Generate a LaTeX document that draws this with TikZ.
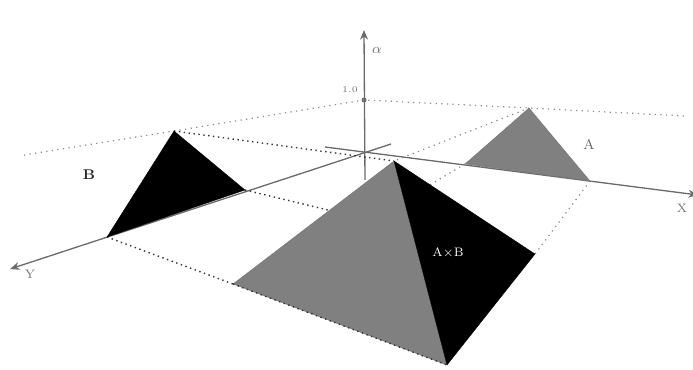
\documentclass[tikz,border=0pt]{standalone}
\usepackage{amsmath,amssymb}
\usepackage{tikz}
\usetikzlibrary{arrows.meta}
\usepackage{xcolor}

\begin{document}
\begin{tikzpicture}[
    x=0.2mm, y=-0.2mm,
    axisline/.style={-{Stealth[length=5.5pt,width=4.5pt]}, line width=0.75pt, color=black!58},
    guide/.style={dash pattern=on 0.7pt off 2.5pt, line width=0.7pt, color=black!45},
    darkguide/.style={dash pattern=on 0.8pt off 2pt, line width=0.8pt, color=black!80},
    lightface/.style={fill=black!50, draw=black!55, line width=0.2pt},
    darkface/.style={fill=black, draw=black, line width=0.2pt},
    axislabel/.style={text=black!55, inner sep=0pt},
    setlabel/.style={font=\footnotesize, inner sep=0pt}
]
    \useasboundingbox (0,0) rectangle (693,370);

    % Key points
    \coordinate (zbase) at (365,180);
    \coordinate (ztop) at (364,30);
    \coordinate (xback) at (325,147);
    \coordinate (xtip) at (698,195);
    \coordinate (yback) at (391,144);
    \coordinate (ytip) at (10,269);
    \coordinate (unit) at (364,100);
    \coordinate (levelleft) at (24,155);
    \coordinate (levelright) at (685,116);

    \coordinate (atop) at (529,108);
    \coordinate (aleft) at (465,164);
    \coordinate (aright) at (590,181);
    \coordinate (btop) at (174,131);
    \coordinate (bnear) at (107,237);
    \coordinate (bfar) at (245,190);
    \coordinate (ptop) at (394,161);
    \coordinate (pleft) at (233,284);
    \coordinate (pfront) at (447,365);
    \coordinate (pright) at (535,254);
    \coordinate (hidebfar) at (332,211);
    \coordinate (hidealeft) at (428,186);

    % Axes
    \draw[axisline] (zbase) -- (ztop);
    \draw[axisline] (xback) -- (xtip);
    \draw[axisline] (yback) -- (ytip);
    \fill[black!58] (unit) circle (2.5);

    % Level lines
    \draw[guide] (levelleft) -- (btop) -- (unit) -- (atop) -- (levelright);
    \draw[guide] (atop) -- (ptop);
    \draw[guide] (aleft) -- (hidealeft);
    \draw[guide] (aright) -- (pright);
    \draw[darkguide] (btop) -- (ptop);
    \draw[darkguide] (bfar) -- (hidebfar);
    \draw[darkguide] (bnear) -- (pleft);

    % Triangles
    \filldraw[lightface] (aleft) -- (atop) -- (aright) -- cycle;
    \filldraw[darkface] (bnear) -- (btop) -- (bfar) -- cycle;

    % Pyramid
    \filldraw[lightface] (pleft) -- (ptop) -- (pfront) -- cycle;
    \filldraw[darkface] (ptop) -- (pright) -- (pfront) -- cycle;
    \draw[darkguide] (pleft) -- (pfront);

    % Labels
    \node[axislabel, font=\footnotesize] (alphalabel) at (377,50) {$\alpha$};
    \node[axislabel, font=\tiny] (unitlabel) at (350,90) {1.0};
    \node[axislabel, font=\scriptsize] (xlabel) at (682,208) {X};
    \node[axislabel, font=\scriptsize] (ylabel) at (30,274) {Y};
    \node[setlabel, text=black!85, font=\footnotesize\bfseries] (blabel) at (89,175) {B};
    \node[setlabel, text=black!60] (alabel) at (589,144) {A};
    \node[setlabel, text=white, font=\scriptsize] (prodlabel) at (448,253) {A$\times$B};
\end{tikzpicture}
\end{document}
